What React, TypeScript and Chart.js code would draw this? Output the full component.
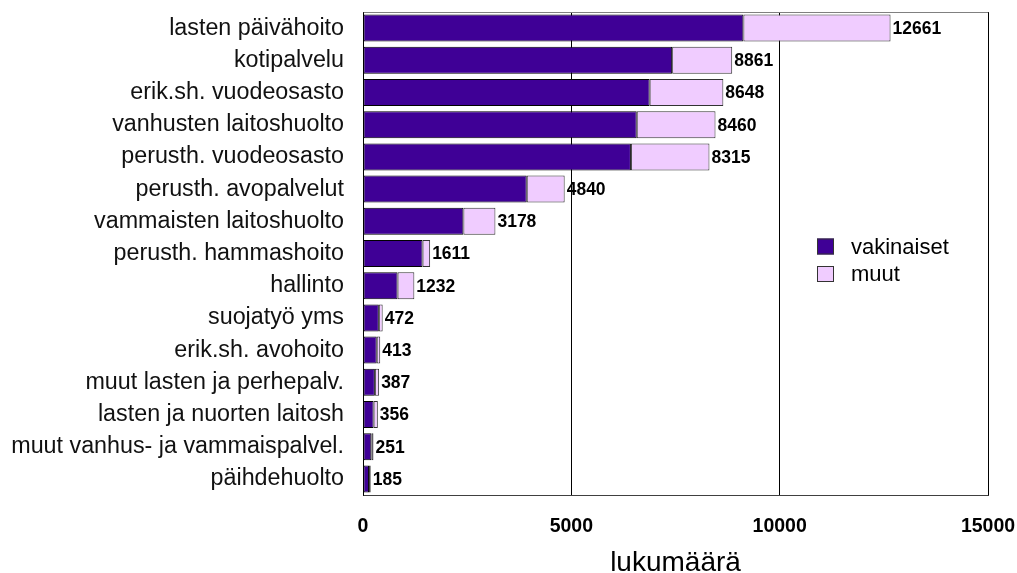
import { useEffect, useRef } from "react";
import { Chart, registerables } from "chart.js";

Chart.register(...registerables);

const categories = [
  "lasten päivähoito",
  "kotipalvelu",
  "erik.sh. vuodeosasto",
  "vanhusten laitoshuolto",
  "perusth. vuodeosasto",
  "perusth. avopalvelut",
  "vammaisten laitoshuolto",
  "perusth. hammashoito",
  "hallinto",
  "suojatyö yms",
  "erik.sh. avohoito",
  "muut lasten ja perhepalv.",
  "lasten ja nuorten laitosh",
  "muut vanhus- ja vammaispalvel.",
  "päihdehuolto",
];

const vakinaiset = [9130, 7420, 6880, 6570, 6430, 3930, 2410, 1430, 830, 380, 330, 285, 255, 200, 145];
const muut = [3531, 1441, 1768, 1890, 1885, 910, 768, 181, 402, 92, 83, 102, 101, 51, 40];

const seriesNames = ["vakinaiset", "muut"];
const seriesColors = ["#3f0096", "#f0ccff"];
const seriesBorders = ["#000000", "#333333"];

const xMin = 0;
const xMax = 15000;
const xStep = 5000;
const xTitle = "lukumäärä";

const FONT = '"Liberation Sans", Arial, Helvetica, sans-serif';

const totalsPlugin = {
  id: "totals",
  afterDatasetsDraw(chart: any) {
    const ctx = chart.ctx;
    const meta = chart.getDatasetMeta(1);
    ctx.save();
    ctx.font = `bold 17.5px ${FONT}`;
    ctx.fillStyle = "#000";
    ctx.textAlign = "left";
    ctx.textBaseline = "middle";
    meta.data.forEach((bar: any, i: number) => {
      const total = vakinaiset[i] + muut[i];
      ctx.fillText(String(total), bar.x + 2, bar.y + 1);
    });
    ctx.restore();
  },
};

const framePlugin = {
  id: "frame",
  afterDatasetsDraw(chart: any) {
    const { ctx, chartArea: a } = chart;
    ctx.save();
    ctx.lineWidth = 1;
    const line = (x1: number, y1: number, x2: number, y2: number, c: string) => {
      ctx.strokeStyle = c;
      ctx.beginPath();
      ctx.moveTo(x1, y1);
      ctx.lineTo(x2, y2);
      ctx.stroke();
    };
    const l = Math.round(a.left) + 0.5;
    const r = Math.round(a.right) + 0.5;
    const t = Math.round(a.top) + 0.5;
    const b = Math.round(a.bottom) + 0.5;
    line(l, t, r, t, "#808080");
    line(r, t, r, b, "#000");
    line(l, b, r, b, "#404040");
    line(l, t, l, b, "#000");
    ctx.restore();
  },
};

const legendPlugin = {
  id: "customLegend",
  afterDraw(chart: any) {
    const { ctx, chartArea: a } = chart;
    ctx.save();
    const boxX = a.right - 171;
    const boxW = 17;
    const boxH = 16;
    const rowY = [a.top + 234.5, a.top + 262];
    ctx.font = `22px ${FONT}`;
    ctx.textAlign = "left";
    ctx.textBaseline = "middle";
    seriesNames.forEach((name, i) => {
      const cy = rowY[i];
      ctx.fillStyle = seriesColors[i];
      ctx.fillRect(boxX, cy - boxH / 2, boxW, boxH);
      ctx.strokeStyle = "#333";
      ctx.lineWidth = 1;
      ctx.strokeRect(boxX + 0.5, cy - boxH / 2 + 0.5, boxW - 1, boxH - 1);
      ctx.fillStyle = "#000";
      ctx.fillText(name, boxX + 34, cy + 1);
    });
    ctx.restore();
  },
};

export default function App() {
  const canvasRef = useRef<HTMLCanvasElement | null>(null);

  useEffect(() => {
    const canvas = canvasRef.current;
    if (!canvas) return;
    const chart = new Chart(canvas, {
      type: "bar",
      data: {
        labels: categories,
        datasets: [
          {
            label: seriesNames[0],
            data: vakinaiset,
            backgroundColor: seriesColors[0],
            borderColor: seriesBorders[0],
            borderWidth: 1,
            borderSkipped: false,
            barPercentage: 0.84,
            categoryPercentage: 1,
          },
          {
            label: seriesNames[1],
            data: muut,
            backgroundColor: seriesColors[1],
            borderColor: seriesBorders[1],
            borderWidth: 1,
            borderSkipped: false,
            barPercentage: 0.84,
            categoryPercentage: 1,
          },
        ],
      },
      options: {
        indexAxis: "y",
        responsive: false,
        animation: false,
        devicePixelRatio: 1,
        layout: { padding: { top: 12, right: 29, left: 0, bottom: 0 } },
        plugins: {
          legend: { display: false },
          tooltip: { enabled: false },
        },
        scales: {
          x: {
            stacked: true,
            min: xMin,
            max: xMax,
            ticks: {
              stepSize: xStep,
              color: "#000",
              padding: 20,
              font: { family: FONT, size: 19.5, weight: "bold" },
              callback: (v: any) => String(v),
            },
            grid: { color: "#000", lineWidth: 1, drawTicks: false },
            border: { display: true, color: "#404040", width: 1 },
            title: {
              display: true,
              text: xTitle,
              color: "#000",
              font: { family: FONT, size: 28, weight: "normal" },
              padding: { top: 9, bottom: -7 },
            },
            afterFit: (scale: any) => {
              scale.height = 78;
              scale.paddingLeft = 0;
              scale.paddingRight = 0;
            },
          },
          y: {
            stacked: true,
            ticks: {
              color: "#111",
              padding: 19,
              font: { family: FONT, size: 23.3 },
            },
            grid: { display: false, drawTicks: false },
            border: { display: true, color: "#000", width: 1 },
            afterFit: (scale: any) => {
              scale.width = 363;
              scale.paddingTop = 0;
              scale.paddingBottom = 0;
            },
          },
        },
      },
      plugins: [framePlugin, totalsPlugin, legendPlugin],
    } as any);
    return () => chart.destroy();
  }, []);

  return (
    <div style={{ position: "fixed", left: 0, top: 0, width: 1017, height: 573, background: "#fff" }}>
      <canvas ref={canvasRef} width={1017} height={573} style={{ display: "block", width: 1017, height: 573 }} />
    </div>
  );
}
